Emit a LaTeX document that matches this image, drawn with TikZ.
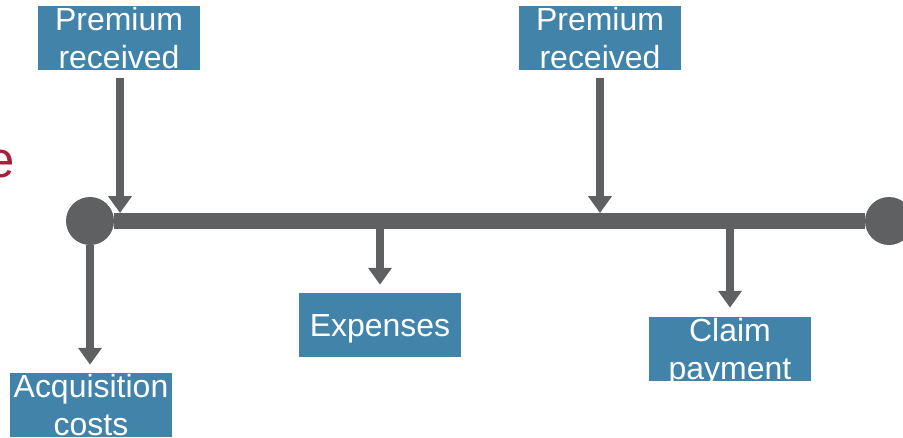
\documentclass[tikz,border=0pt]{standalone}
\usepackage{fontspec}
\setmainfont{Liberation Sans}
\usetikzlibrary{arrows.meta}
\usetikzlibrary{positioning}
\definecolor{boxblue}{RGB}{66,131,170}
\definecolor{linegray}{RGB}{95,96,98}
\definecolor{titlered}{RGB}{170,30,60}

\begin{document}
\begin{tikzpicture}[x=0.02cm, y=0.02cm,
eventnode/.style={rectangle, fill=boxblue, text=white, minimum width=3.24cm, minimum height=1.28cm, inner sep=0pt, text depth=0pt, align=center, font=\fontsize{18.2}{22}\selectfont},
endnode/.style={circle, fill=linegray, minimum size=0.96cm, inner sep=0pt},
bar/.style={draw=linegray, line width=9pt},
flow/.style={draw=linegray, line width=4.2pt, -{Triangle[width=13pt, length=9.6pt]}},
]
\useasboundingbox (0,0) rectangle (903,437);

%Nodes
\node[text=titlered, font=\fontsize{29}{34}\selectfont, inner sep=0pt, anchor=base east] (title) at (15,260) {e};
\node[endnode]      (start)     at (90,216)  {};
\node[endnode]      (finish)    at (889,216) {};
\node[eventnode]    (premone)   at (119,399) {Premium\\received};
\node[eventnode]    (premtwo)   at (600,399) {Premium\\received};
\node[eventnode]    (acq)       at (91,32)   {Acquisition\\costs};
\node[eventnode]    (expenses)  at (380,112) {Expenses};
\node[eventnode]    (claim)     at (730,88)  {Claim\\payment};
\coordinate (inone) at (120,224);
\coordinate (intwo) at (600,224);
\coordinate (outone) at (380,208);
\coordinate (outtwo) at (730,208);

%Lines
\draw[bar] (start) -- (finish);
\draw[flow, shorten <=0.16cm] (premone.south -| inone) -- (inone);
\draw[flow, shorten <=0.16cm] (premtwo.south -| intwo) -- (intwo);
\draw[flow, shorten >=0.16cm] (start.south) -- (start.south |- acq.north);
\draw[flow, shorten >=0.16cm] (outone) -- (expenses.north);
\draw[flow, shorten >=0.18cm] (outtwo) -- (claim.north);
\end{tikzpicture}
\end{document}
